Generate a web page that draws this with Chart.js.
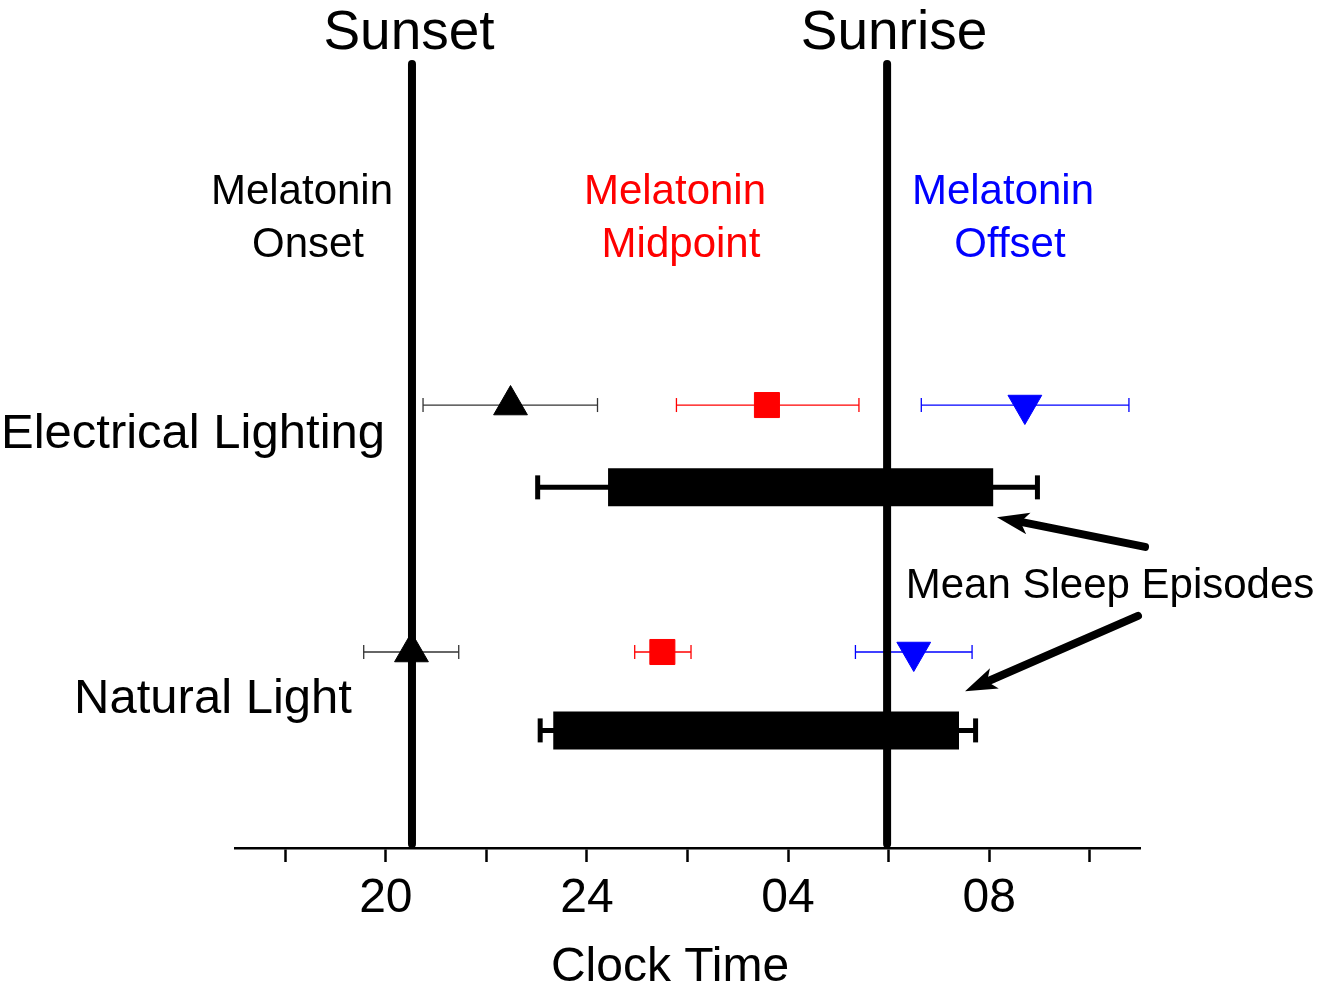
<!DOCTYPE html>
<html>
<head>
<meta charset="utf-8">
<title>Melatonin timing and mean sleep episodes</title>
<script src="https://cdn.jsdelivr.net/npm/chart.js@4.4.1/dist/chart.umd.min.js"></script>
<style>
  html, body { margin: 0; padding: 0; background: #fff; }
  #chart { display: block; }
</style>
</head>
<body>
<canvas id="chart" width="1321" height="996"></canvas>
<script>
// Clock time in hours, counted on past midnight (24 = midnight, 28 = 04:00)
const conditions = ['Electrical Lighting', 'Natural Light'];
const markerRow = [5.65, 2.5];   // row of the melatonin markers, per condition
const sleepRow = [4.6, 1.5];     // row of the sleep episode bar, per condition

const onsetMean = [22.48, 20.51];
const onsetLow = [20.74, 19.56];
const onsetHigh = [24.21, 21.45];

const midMean = [27.58, 25.50];
const midLow = [25.78, 24.95];
const midHigh = [29.41, 26.07];

const offsetMean = [32.71, 30.50];
const offsetLow = [30.65, 29.34];
const offsetHigh = [34.78, 31.66];

const sleepStart = [24.42, 23.33];
const sleepEnd = [32.08, 31.40];
const sleepStartErr = [23.02, 23.07];
const sleepEndErr = [32.96, 31.73];

const sunset = 20.52;
const sunrise = 29.97;

const tickValues = [18, 20, 22, 24, 26, 28, 30, 32, 34];
const tickLabels = ['', '20', '', '24', '', '04', '', '08', ''];

const FONT = '"Liberation Sans", Arial, Helvetica, sans-serif';
const RED = '#ff0000';
const BLUE = '#0000ff';

// build the datasets
const datasets = [];

function pt(x, y) { return { x: x, y: y }; }

// melatonin markers (on top)
function markers(means, style, rotation, color, radius) {
    return {
        data: means.map((m, i) => pt(m, markerRow[i])),
        pointStyle: style,
        pointRotation: rotation,
        pointRadius: radius,
        pointBackgroundColor: color,
        pointBorderColor: color,
        pointBorderWidth: 1,
        showLine: false,
        order: 0
    };
}
datasets.push(markers(onsetMean, 'triangle', 0, '#000', 19.5));
datasets.push(markers(midMean, 'rect', 0, RED, 17.7));
datasets.push(markers(offsetMean, 'triangle', 180, BLUE, 19.5));

conditions.forEach((c, i) => {
    // sleep episode bar
    datasets.push({
        data: [pt(sleepStart[i], sleepRow[i]), pt(sleepEnd[i], sleepRow[i])],
        showLine: true,
        borderColor: '#000',
        borderWidth: 38,
        borderCapStyle: 'butt',
        pointRadius: 0,
        order: 1
    });
    // sleep error whisker
    datasets.push({
        data: [pt(sleepStartErr[i], sleepRow[i]), pt(sleepEndErr[i], sleepRow[i])],
        showLine: true,
        borderColor: '#000',
        borderWidth: 5,
        pointStyle: 'line',
        pointRotation: 90,
        pointRadius: 12,
        pointBorderWidth: 5,
        pointBorderColor: '#000',
        order: 2
    });
});

// sunset / sunrise lines
[sunset, sunrise].forEach(t => {
    datasets.push({
        data: [pt(t, 0.05), pt(t, 10)],
        showLine: true,
        borderColor: '#000',
        borderWidth: 8,
        borderCapStyle: 'round',
        pointRadius: 0,
        order: 3
    });
});

// melatonin error bars (underneath)
function errBars(low, high, color) {
    conditions.forEach((c, i) => {
        datasets.push({
            data: [pt(low[i], markerRow[i]), pt(high[i], markerRow[i])],
            showLine: true,
            borderColor: color,
            borderWidth: 1.3,
            pointStyle: 'line',
            pointRotation: 90,
            pointRadius: 7,
            pointBorderWidth: 1.3,
            pointBorderColor: color,
            order: 4
        });
    });
}
errBars(onsetLow, onsetHigh, '#333');
errBars(midLow, midHigh, RED);
errBars(offsetLow, offsetHigh, BLUE);

datasets.forEach(d => { d.clip = false; });

// texts and arrows drawn over the plot
const annotations = {
    id: 'annotations',
    afterDatasetsDraw(chart) {
        const ctx = chart.ctx;
        const xs = chart.scales.x, ys = chart.scales.y;

        function text(str, x, y, size, color, align) {
            ctx.font = size + 'px ' + FONT;
            ctx.fillStyle = color;
            ctx.textAlign = align || 'center';
            ctx.textBaseline = 'alphabetic';
            ctx.fillText(str, x, y);
        }

        function arrow(x1, y1, x2, y2) {
            const ax = xs.getPixelForValue(x1), ay = ys.getPixelForValue(y1);
            const bx = xs.getPixelForValue(x2), by = ys.getPixelForValue(y2);
            const ang = Math.atan2(by - ay, bx - ax);
            const headLen = 32, headHalf = 11;
            const hx = bx - Math.cos(ang) * headLen * 0.8;
            const hy = by - Math.sin(ang) * headLen * 0.8;
            ctx.strokeStyle = '#000';
            ctx.lineWidth = 8;
            ctx.lineCap = 'round';
            ctx.beginPath();
            ctx.moveTo(ax, ay);
            ctx.lineTo(hx, hy);
            ctx.stroke();
            const bxb = bx - Math.cos(ang) * headLen;
            const byb = by - Math.sin(ang) * headLen;
            ctx.fillStyle = '#000';
            ctx.beginPath();
            ctx.moveTo(bx, by);
            ctx.lineTo(bxb - Math.sin(ang) * headHalf, byb + Math.cos(ang) * headHalf);
            ctx.lineTo(bx - Math.cos(ang) * headLen * 0.75, by - Math.sin(ang) * headLen * 0.75);
            ctx.lineTo(bxb + Math.sin(ang) * headHalf, byb - Math.cos(ang) * headHalf);
            ctx.closePath();
            ctx.fill();
        }

        ctx.save();
        arrow(35.10, 3.84, 32.155, 4.22);
        arrow(34.96, 2.96, 31.52, 2.00);

        text('Sunset', 409, 49, 55, '#000');
        text('Sunrise', 894, 49, 55, '#000');

        text('Melatonin', 302, 204, 42, '#000');
        text('Onset', 308, 257, 42, '#000');
        text('Melatonin', 675, 204, 42, RED);
        text('Midpoint', 681, 257, 42, RED);
        text('Melatonin', 1003, 204, 42, BLUE);
        text('Offset', 1010, 257, 42, BLUE);

        text(conditions[0], 193, 448, 49, '#000');
        text(conditions[1], 213, 713, 49, '#000');

        text('Mean Sleep Episodes', 1110, 598, 42, '#000');

        // x axis title
        text('Clock Time', 670, 981, 48, '#000');
        ctx.restore();
    }
};

const ctx = document.getElementById('chart').getContext('2d');
const chart = new Chart(ctx, {
    type: 'scatter',
    data: { datasets: datasets },
    options: {
        responsive: false,
        animation: false,
        devicePixelRatio: 1,
        events: [],
        layout: { padding: { left: 235, right: 181, top: 64, bottom: 60 } },
        plugins: {
            legend: { display: false },
            tooltip: { enabled: false }
        },
        scales: {
            x: {
                type: 'linear',
                min: 17,
                max: 35,
                afterBuildTicks: axis => {
                    axis.ticks = tickValues.map(v => ({ value: v }));
                },
                ticks: {
                    callback: v => tickLabels[tickValues.indexOf(v)],
                    autoSkip: false,
                    maxRotation: 0,
                    padding: 13,
                    color: '#000',
                    font: { family: FONT, size: 48, lineHeight: 1 }
                },
                grid: {
                    drawOnChartArea: false,
                    drawTicks: true,
                    tickLength: 14,
                    tickWidth: 2.5,
                    tickColor: '#000'
                },
                border: { display: true, color: '#000', width: 2.5 },
                title: { display: false }
            },
            y: {
                type: 'linear',
                min: 0,
                max: 10,
                display: false
            }
        }
    },
    plugins: [annotations]
});
</script>
</body>
</html>
